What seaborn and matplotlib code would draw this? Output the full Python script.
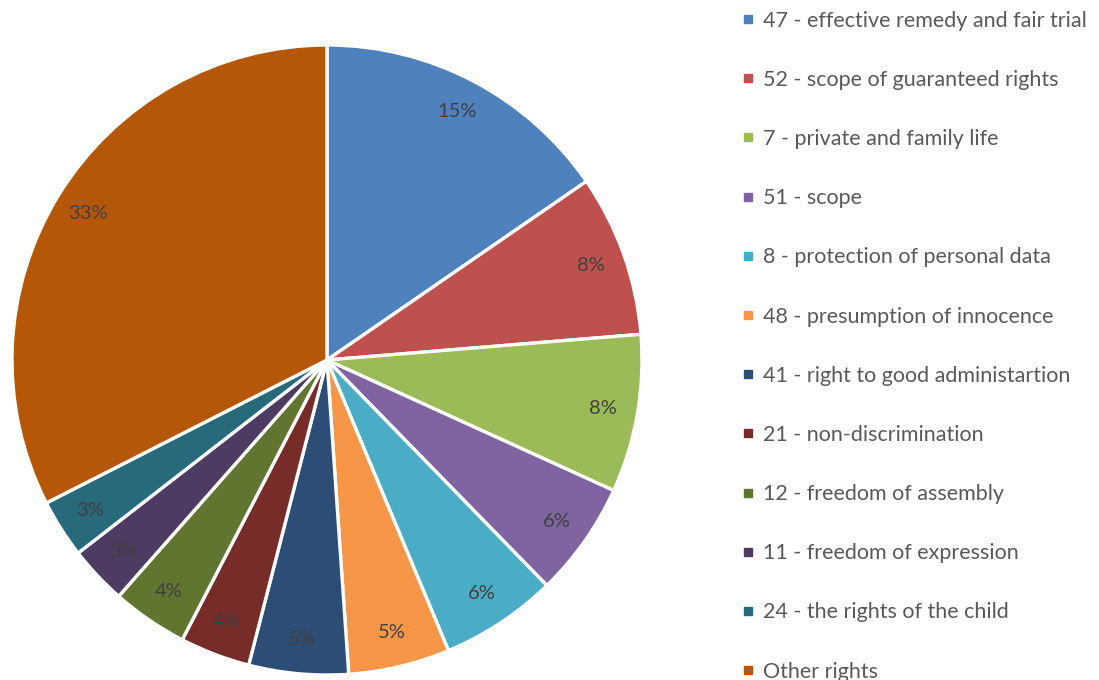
import matplotlib
matplotlib.use("Agg")
import matplotlib.pyplot as plt
from matplotlib.lines import Line2D
import seaborn as sns

# data (shares)
labels = [
    "47 - effective remedy and fair trial",
    "52 - scope of guaranteed rights",
    "7 - private and family life",
    "51 - scope",
    "8 - protection of personal data",
    "48 - presumption of innocence",
    "41 - right to good administartion",
    "21 - non-discrimination",
    "12 - freedom of assembly",
    "11 - freedom of expression",
    "24 - the rights of the child",
    "Other rights",
]
shares = [15.4, 8.3, 8.1, 5.9, 6.0, 5.2, 5.1, 3.6, 3.9, 3.0, 3.0, 32.5]
pct_text = ["15%", "8%", "8%", "6%", "6%", "5%", "5%", "4%", "4%", "3%", "3%", "33%"]
colors = [
    "#4F81BD", "#C0504D", "#9BBB59", "#8064A2", "#4BACC6", "#F79646",
    "#2C4D75", "#772C2A", "#5F7530", "#4D3B62", "#276A7C", "#B65708",
]

sns.set_theme(style="white")
plt.rcParams["font.family"] = ["Lato", "DejaVu Sans"]

W, H = 1099, 680
fig = plt.figure(figsize=(W / 100, H / 100), dpi=100)
fig.patch.set_facecolor("white")

# pie centred at (327, 360) px, radius 315 px
cx, cy, r = 327, 360, 315
ax = fig.add_axes([(cx - r) / W, (H - cy - r) / H, 2 * r / W, 2 * r / H])
wedges, texts, autotexts = ax.pie(
    shares,
    colors=sns.color_palette(colors),
    startangle=90,
    counterclock=False,
    autopct="%1.0f%%",
    pctdistance=0.89,
    radius=1,
    wedgeprops=dict(edgecolor="white", linewidth=2.4),
    textprops=dict(color="#404040", fontsize=14.5),
)
for t, s in zip(autotexts, pct_text):
    t.set_text(s)
ax.set_xlim(-1, 1)
ax.set_ylim(-1, 1)
ax.set_aspect("equal")
ax.axis("off")

handles = [
    Line2D([], [], marker="s", linestyle="none", markersize=6,
           markerfacecolor=c, markeredgecolor=c)
    for c in colors
]
leg = fig.legend(
    handles, labels,
    loc="upper left",
    bbox_to_anchor=(733 / W, 1 - 2 / H),
    frameon=False,
    fontsize=15.5,
    labelcolor="#595959",
    handlelength=0.6,
    handletextpad=0.4,
    labelspacing=1.82,
    borderaxespad=0,
)

fig.savefig("out.png", dpi=100, facecolor="white")
